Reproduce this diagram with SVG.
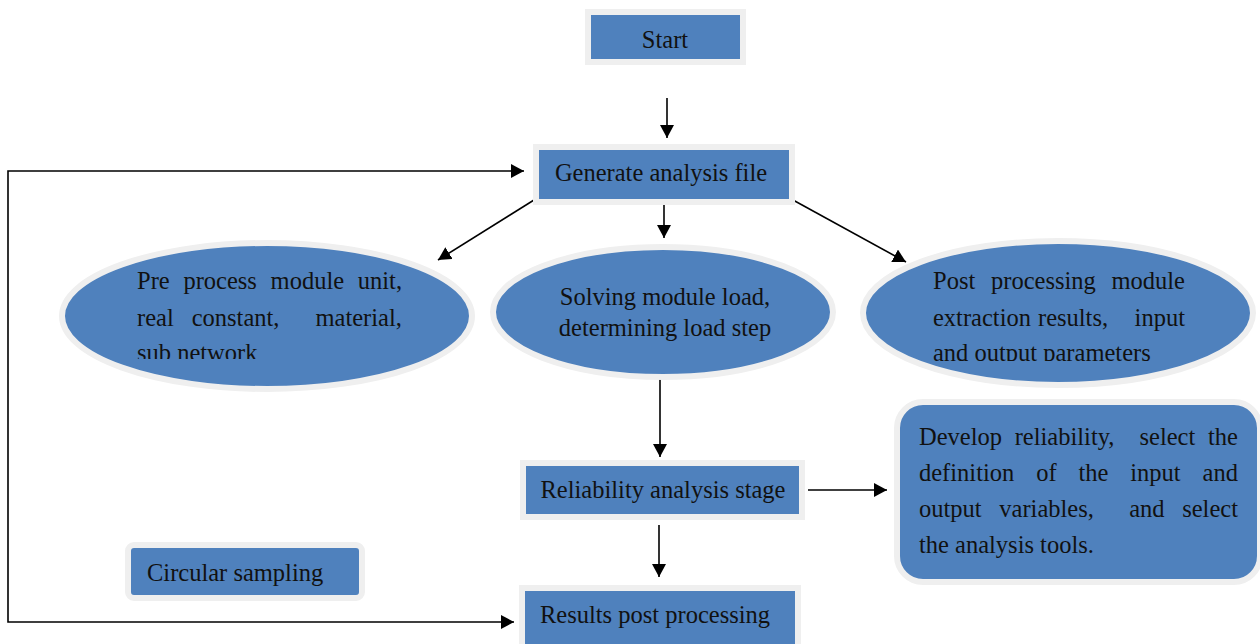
<svg xmlns="http://www.w3.org/2000/svg" width="1260" height="644" viewBox="0 0 1260 644">
<style>
.box{fill:#4f81bd;stroke:#efefef;stroke-width:6}
.t{font-family:"Liberation Serif","Times New Roman",serif;font-size:24.5px;fill:#111}
.c{text-anchor:middle}
.ln{stroke:#000;stroke-width:1.6;fill:none}
</style>
<defs>
<marker id="ah" markerUnits="userSpaceOnUse" markerWidth="14" markerHeight="14" refX="13" refY="7" orient="auto">
<path d="M0,0 L13,7 L0,14 z" fill="#000"/>
</marker>
<clipPath id="cpPre"><rect x="100" y="250" width="340" height="109"/></clipPath>
<clipPath id="cpPost"><rect x="900" y="250" width="320" height="111"/></clipPath>
</defs>
<rect width="1260" height="644" fill="#fff"/>
<g id="connectors">
<line class="ln" x1="667" y1="98" x2="667" y2="138" marker-end="url(#ah)"/>
<line class="ln" x1="534" y1="200" x2="438" y2="260" marker-end="url(#ah)"/>
<line class="ln" x1="664" y1="202" x2="664" y2="238" marker-end="url(#ah)"/>
<line class="ln" x1="793" y1="200" x2="906" y2="262" marker-end="url(#ah)"/>
<line class="ln" x1="660" y1="378" x2="660" y2="457" marker-end="url(#ah)"/>
<line class="ln" x1="808" y1="490" x2="887" y2="490" marker-end="url(#ah)"/>
<line class="ln" x1="659" y1="525" x2="659" y2="577" marker-end="url(#ah)"/>
<polyline class="ln" points="8,400 8,171 524,171" marker-end="url(#ah)"/>
<polyline class="ln" points="8,400 8,622 514,622" marker-end="url(#ah)"/>
</g>
<g id="start">
<rect class="box" x="588" y="12" width="155" height="50"/>
<text class="t c" x="665" y="48">Start</text>
</g>
<g id="generate">
<rect class="box" x="536" y="147" width="256" height="55"/>
<text class="t c" x="661" y="181">Generate analysis file</text>
</g>
<g id="pre">
<ellipse class="box" cx="267" cy="316" rx="205" ry="73"/>
<g clip-path="url(#cpPre)">
<text class="t" y="289"><tspan x="137">Pre</tspan><tspan x="183.4">process</tspan><tspan x="270.6">module</tspan><tspan x="357.8">unit,</tspan></text>
<text class="t" y="326"><tspan x="137">real</tspan><tspan x="191.7">constant,</tspan><tspan x="315.5">material,</tspan></text>
<text class="t" x="137" y="361">sub network</text>
</g>
</g>
<g id="solving">
<ellipse class="box" cx="663" cy="312" rx="170" ry="65"/>
<text class="t c" x="665" y="305">Solving module load,</text>
<text class="t c" x="665" y="336">determining load step</text>
</g>
<g id="post">
<ellipse class="box" cx="1058" cy="313" rx="195" ry="72"/>
<g clip-path="url(#cpPost)">
<text class="t" y="289"><tspan x="933">Post</tspan><tspan x="991">processing</tspan><tspan x="1111.5">module</tspan></text>
<text class="t" y="326"><tspan x="933">extraction</tspan><tspan x="1038">results,</tspan><tspan x="1134.6">input</tspan></text>
<text class="t" x="933" y="361">and output parameters</text>
</g>
</g>
<g id="reliability">
<rect class="box" x="523" y="463" width="279" height="54"/>
<text class="t c" x="663" y="498">Reliability analysis stage</text>
</g>
<g id="develop">
<rect class="box" x="897" y="402" width="363" height="180" rx="26"/>
<text class="t" y="445"><tspan x="919">Develop</tspan><tspan x="1014.7">reliability,</tspan><tspan x="1139.5">select</tspan><tspan x="1208">the</tspan></text>
<text class="t" y="481"><tspan x="919">definition</tspan><tspan x="1036.2">of</tspan><tspan x="1078.5">the</tspan><tspan x="1130.3">input</tspan><tspan x="1202.6">and</tspan></text>
<text class="t" y="517"><tspan x="919">output</tspan><tspan x="999.3">variables,</tspan><tspan x="1129.2">and</tspan><tspan x="1182.2">select</tspan></text>
<text class="t" x="919" y="553">the analysis tools.</text>
</g>
<g id="circular">
<rect class="box" x="128" y="545" width="234" height="53" rx="6"/>
<text class="t" x="147" y="581">Circular sampling</text>
</g>
<g id="results">
<rect class="box" x="522" y="588" width="276" height="62"/>
<text class="t" x="540" y="623">Results post processing</text>
</g>
</svg>
